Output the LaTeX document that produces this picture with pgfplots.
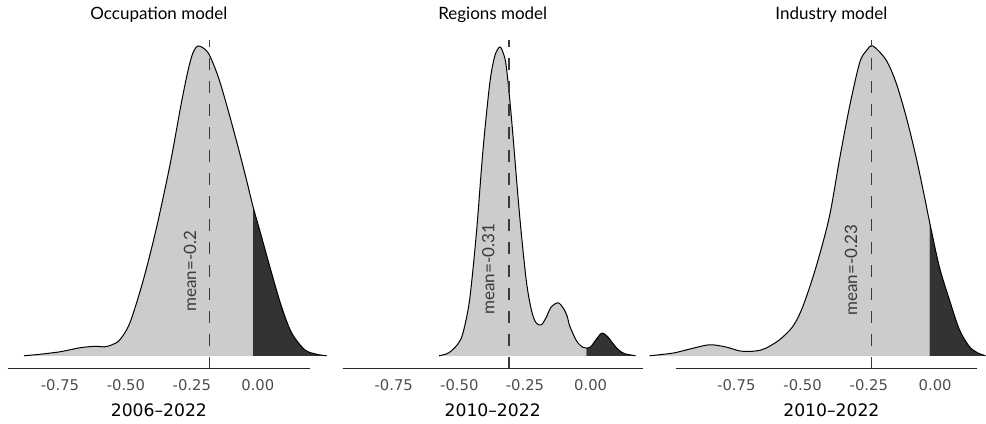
\documentclass[border=0pt]{standalone}
\usepackage{fontspec}
\setmainfont{Lato}
\newfontfamily\numfont{DejaVu Sans}
\usepackage{pgfplots}
\usepackage{pgfplotstable}
\pgfplotsset{compat=1.18}
\usepgfplotslibrary{fillbetween}

\definecolor{lightfill}{HTML}{CCCCCC}
\definecolor{darkfill}{HTML}{333333}
\definecolor{ticktext}{HTML}{4D4D4D}
\definecolor{meangrey}{HTML}{3A3A3A}

% density curves, heights in arbitrary units (peak ~310)
\pgfplotstableread{
x h
-0.886 0
-0.826 1.5
-0.750 4
-0.674 8
-0.617 9.5
-0.580 9
-0.553 11
-0.523 16
-0.485 33
-0.436 74
-0.386 126
-0.333 191
-0.292 250
-0.265 285
-0.246 303
-0.225 310
-0.188 303
-0.150 279
-0.113 246
-0.075 209
-0.043 176
-0.018 149
0.014 119
0.052 83
0.090 49
0.128 23
0.178 6
0.223 1.5
0.261 0
}\occdens

\pgfplotstableread{
x h
-0.577 0
-0.540 3
-0.505 12
-0.486 23
-0.461 56
-0.435 123
-0.410 206
-0.384 273
-0.365 300
-0.346 309
-0.333 303
-0.321 289
-0.302 239
-0.270 139
-0.245 75
-0.225 45
-0.208 33
-0.188 31
-0.170 38
-0.150 49
-0.124 53
-0.105 48
-0.090 40
-0.080 30
-0.060 18
-0.048 12.7
-0.030 8.5
-0.016 7.7
0.000 9
0.020 16
0.043 22.7
0.065 19
0.079 14.3
0.095 9
0.110 5
0.130 2
0.155 0.7
0.171 0
}\regdens

\pgfplotstableread{
x h
-1.077 0
-0.989 2.7
-0.926 6.7
-0.851 11
-0.788 8.7
-0.740 5
-0.700 4.3
-0.660 5.5
-0.637 7.7
-0.587 16
-0.537 29.3
-0.499 49.3
-0.449 89
-0.399 139
-0.361 196
-0.323 249
-0.285 293
-0.260 305
-0.235 310
-0.185 296
-0.147 273
-0.109 239
-0.072 199
-0.040 159
-0.021 134
0.016 89
0.054 56
0.092 26
0.129 9.3
0.160 3
0.179 1
0.190 0
}\inddens

\pgfplotsset{
  densplot/.style={
    scale only axis,
    height=164.5pt,
    ymin=-13, ymax=316,
    axis x line*=bottom,
    axis y line=none,
    clip=false,
    set layers,
    anchor=south west,
    xtick={-0.75,-0.5,-0.25,0},
    xticklabels={-0.75,-0.50,-0.25,0.00},
    major tick length=0pt,
    axis line style={line width=0.5pt,color=black!85},
    xticklabel style={anchor=base,yshift=-10.8pt,
      font=\numfont\fontsize{7.4}{9}\selectfont,text=ticktext},
    xlabel style={at={(0.5,0)},anchor=base,yshift=-24pt,
      font=\numfont\fontsize{8.6}{10}\selectfont},
    title style={at={(0.5,1)},anchor=base,yshift=4pt,
      font=\fontsize{8.5}{10}\selectfont},
  },
  curve/.style={draw=black,line width=0.5pt,smooth,tension=0.5},
  meanline/.style={meangrey,line width=0.6pt,dash pattern=on 6pt off 5.5pt},
}
\tikzset{
  meanlabel/.style={rotate=90,anchor=south west,inner sep=0pt,
    font=\fontsize{8.5}{10}\selectfont,text=meangrey},
}

\begin{document}
\begin{tikzpicture}

% Occupation model
\begin{axis}[densplot,at={(4pt,25.5pt)},width=151pt,
  xmin=-0.947,xmax=0.197,
  title={Occupation model},xlabel={2006–2022}]
  \addplot[curve,name path=occ] table[x=x,y=h] {\occdens};
  \addplot[draw=none,name path=occbase] coordinates {(-0.89,0) (0.265,0)};
  \addplot[lightfill] fill between[of=occ and occbase,soft clip={domain=-2:-0.018}];
  \addplot[darkfill] fill between[of=occ and occbase,soft clip={domain=-0.018:1}];
  \addplot[meanline] coordinates {(-0.182,-13) (-0.182,316)};
  \node[meanlabel] at ([xshift=-6.6pt]axis cs:-0.182,44) {mean=-0.2};
\end{axis}

% Regions model
\begin{axis}[densplot,at={(171.35pt,25.5pt)},width=150.3pt,
  xmin=-0.945,xmax=0.199,
  title={Regions model},xlabel={2010–2022}]
  \addplot[curve,name path=reg] table[x=x,y=h] {\regdens};
  \addplot[draw=none,name path=regbase] coordinates {(-0.58,0) (0.175,0)};
  \addplot[lightfill] fill between[of=reg and regbase,soft clip={domain=-2:-0.016}];
  \addplot[darkfill] fill between[of=reg and regbase,soft clip={domain=-0.016:1}];
  \addplot[meanline] coordinates {(-0.311,-13) (-0.311,316)};
  \node[meanlabel] at ([xshift=-7pt]axis cs:-0.311,41) {mean=-0.31};
\end{axis}

% Industry model
\begin{axis}[densplot,at={(338pt,25.5pt)},width=150.65pt,
  xmin=-0.979,xmax=0.157,
  title style={xshift=2.6pt},xlabel style={xshift=2.6pt},
  title={Industry model},xlabel={2010–2022}]
  \addplot[curve,name path=ind] table[x=x,y=h] {\inddens};
  \addplot[draw=none,name path=indbase] coordinates {(-1.08,0) (0.192,0)};
  \addplot[lightfill] fill between[of=ind and indbase,soft clip={domain=-2:-0.021}];
  \addplot[darkfill] fill between[of=ind and indbase,soft clip={domain=-0.021:1}];
  \addplot[meanline] coordinates {(-0.239,-13) (-0.239,316)};
  \node[meanlabel] at ([xshift=-7pt]axis cs:-0.239,40) {mean=-0.23};
\end{axis}

\path (0,0) rectangle (493pt,210pt);
\end{tikzpicture}
\end{document}
